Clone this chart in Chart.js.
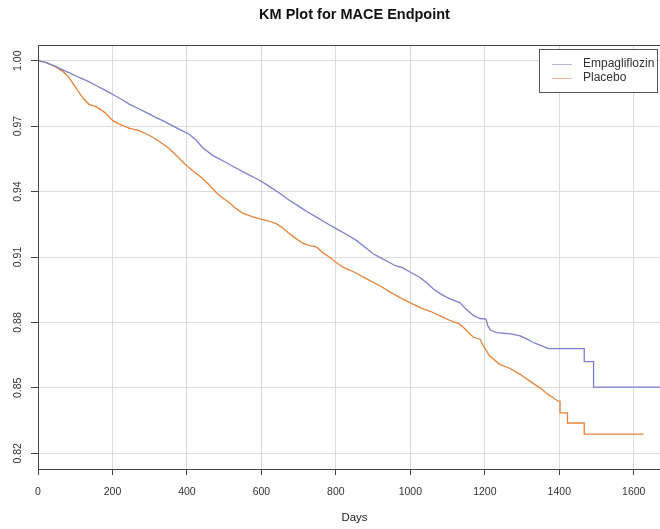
<!DOCTYPE html>
<html>
<head>
<meta charset="utf-8">
<title>KM Plot for MACE Endpoint</title>
<script src="https://cdn.jsdelivr.net/npm/chart.js@4.4.1/dist/chart.umd.min.js"></script>
<style>
  html, body { margin: 0; padding: 0; background: #fff; overflow: hidden; }
  #wrap { width: 709px; height: 529px; }
</style>
</head>
<body>
<div id="wrap"><canvas id="kmChart" width="709" height="529"></canvas></div>
<script>
// Kaplan-Meier estimates
// (repeated days are the big visible drops in the tail)
const empaDays = [0, 20, 45, 67, 90, 112, 135, 157, 180, 201, 225, 246, 268, 291, 316, 335, 354, 380, 407, 425,
  443, 470, 500, 524, 560, 596, 620, 649, 675, 703, 725, 748, 775, 802, 830, 856, 880, 900, 918, 940,
  960, 980, 1000, 1026, 1045, 1062, 1080, 1098, 1115, 1133, 1150, 1169, 1187, 1203, 1208, 1215, 1232, 1270, 1295, 1315,
  1330, 1350, 1371, 1467, 1467, 1492, 1492, 1700];
const empaSurv = [1.000, 0.9992, 0.9975, 0.9958, 0.9940, 0.9922, 0.9905, 0.9885, 0.9865, 0.9845, 0.9822, 0.9800, 0.9782, 0.9762, 0.9740, 0.9725, 0.9708, 0.9685, 0.9662, 0.9635,
  0.9600, 0.9565, 0.9538, 0.9515, 0.9482, 0.9451, 0.9425, 0.9392, 0.9360, 0.9330, 0.9305, 0.9283, 0.9255, 0.9229, 0.9202, 0.9175, 0.9142, 0.9115, 0.9098, 0.9078,
  0.9060, 0.9050, 0.9030, 0.9006, 0.8980, 0.8953, 0.8932, 0.8915, 0.8902, 0.8891, 0.8860, 0.8832, 0.8818, 0.8815, 0.8785, 0.8765, 0.8753, 0.8748, 0.8738, 0.8722,
  0.8708, 0.8695, 0.8680, 0.8680, 0.8620, 0.8620, 0.8503, 0.8503];

const placeboDays = [0, 20, 45, 67, 80, 94, 108, 121, 137, 157, 180, 201, 220, 246, 268, 290, 307, 330, 352, 375,
  397, 420, 442, 460, 477, 495, 513, 530, 551, 575, 596, 620, 641, 660, 676, 695, 712, 730, 748, 765,
  784, 800, 820, 850, 880, 918, 945, 972, 1000, 1026, 1055, 1080, 1105, 1133, 1150, 1169, 1187, 1197, 1213, 1240,
  1267, 1295, 1321, 1348, 1370, 1397, 1402, 1402, 1422, 1422, 1467, 1467, 1626];
const placeboSurv = [1.000, 0.9992, 0.9975, 0.9950, 0.9930, 0.9896, 0.9860, 0.9828, 0.9800, 0.9788, 0.9762, 0.9725, 0.9708, 0.9690, 0.9682, 0.9665, 0.9650, 0.9625, 0.9597, 0.9560,
  0.9522, 0.9490, 0.9460, 0.9430, 0.9398, 0.9372, 0.9350, 0.9325, 0.9300, 0.9285, 0.9275, 0.9265, 0.9252, 0.9230, 0.9206, 0.9182, 0.9162, 0.9152, 0.9146, 0.9120,
  0.9098, 0.9076, 0.9052, 0.9030, 0.9002, 0.8968, 0.8940, 0.8914, 0.8890, 0.8868, 0.8850, 0.8830, 0.8810, 0.8792, 0.8765, 0.8732, 0.8723, 0.8690, 0.8646, 0.8608,
  0.8590, 0.8562, 0.8531, 0.8500, 0.8470, 0.8439, 0.8439, 0.8385, 0.8385, 0.8339, 0.8339, 0.8288, 0.8288];

const xTicks = [0, 200, 400, 600, 800, 1000, 1200, 1400, 1600];
const yTicks = [0.82, 0.85, 0.88, 0.91, 0.94, 0.97, 1.00];

const toPoints = (days, surv) => days.map((d, i) => ({ x: d, y: surv[i] }));

const fontFamily = "'Liberation Sans', Arial, sans-serif";
Chart.defaults.font.family = fontFamily;

// box round the plot and the legend in the top right corner, like base R
const plotBox = {
  id: "plotBox",
  afterDraw(chart) {
    const { ctx, chartArea: a } = chart;
    ctx.save();
    ctx.strokeStyle = "#444";
    ctx.lineWidth = 1;
    ctx.strokeRect(a.left + 0.5, a.top + 0.5, a.right - a.left, a.bottom - a.top);

    const lx = a.right - 132, ly = a.top + 4, lw = 118, lh = 43;
    ctx.fillStyle = "#fff";
    ctx.fillRect(lx, ly, lw, lh);
    ctx.strokeStyle = "#555";
    ctx.strokeRect(lx + 0.5, ly + 0.5, lw, lh);

    ctx.font = "12px " + fontFamily;
    ctx.textBaseline = "middle";
    chart.data.datasets.forEach((ds, i) => {
      const yy = ly + 15 + i * 14;
      ctx.globalAlpha = 0.55;
      ctx.strokeStyle = ds.borderColor;
      ctx.beginPath();
      ctx.moveTo(lx + 13, yy + 0.5);
      ctx.lineTo(lx + 33, yy + 0.5);
      ctx.stroke();
      ctx.globalAlpha = 1;
      ctx.fillStyle = "#333";
      ctx.fillText(ds.label, lx + 44, yy);
    });
    ctx.restore();
  }
};

const ctx = document.getElementById("kmChart").getContext("2d");
new Chart(ctx, {
  type: "line",
  data: {
    datasets: [
      {
        label: "Empagliflozin",
        data: toPoints(empaDays, empaSurv),
        borderColor: "#7c80d0",
        borderWidth: 1.3,
        pointRadius: 0,
        tension: 0,
        fill: false,
      },
      {
        label: "Placebo",
        data: toPoints(placeboDays, placeboSurv),
        borderColor: "#e8843a",
        borderWidth: 1.3,
        pointRadius: 0,
        tension: 0,
        fill: false,
      },
    ],
  },
  options: {
    responsive: false,
    animation: false,
    layout: { padding: 0 },
    plugins: {
      legend: { display: false },
      tooltip: { enabled: false },
      title: {
        display: true,
        text: "KM Plot for MACE Endpoint",
        color: "#111",
        font: { size: 14.5, weight: "bold", lineHeight: 1.2 },
        padding: { top: 6, bottom: 21.6 },
      },
    },
    scales: {
      x: {
        type: "linear",
        min: 0,
        max: 1700,
        afterBuildTicks: (s) => { s.ticks = xTicks.map((v) => ({ value: v })); },
        afterFit: (s) => { s.height = 60; },
        grid: { color: "#dcdcdc", tickColor: "#444", tickLength: 6 },
        border: { color: "#444" },
        ticks: {
          color: "#333",
          font: { size: 10.5 },
          padding: 11,
          maxRotation: 0,
          callback: (v) => String(v),
        },
        title: {
          display: true,
          text: "Days",
          color: "#222",
          font: { size: 11.5 },
          padding: { top: 0, bottom: 4 },
        },
      },
      y: {
        type: "linear",
        min: 0.8128,
        max: 1.0072,
        afterBuildTicks: (s) => { s.ticks = yTicks.map((v) => ({ value: v })); },
        afterFit: (s) => { s.width = 38; },
        grid: { color: "#dcdcdc", tickColor: "#444", tickLength: 7 },
        border: { color: "#444" },
        ticks: {
          color: "#333",
          font: { size: 10.5 },
          minRotation: 90,
          maxRotation: 90,
          crossAlign: "center",
          padding: 2.5,
          callback: (v) => v.toFixed(2),
        },
      },
      // empty axis so the plot region stops where R's did (past the right edge of the picture)
      yRight: {
        type: "linear",
        position: "right",
        grid: { display: false },
        border: { display: false },
        ticks: { display: false },
        afterFit: (s) => { s.width = 38; },
      },
    },
  },
  plugins: [plotBox],
});
</script>
</body>
</html>
